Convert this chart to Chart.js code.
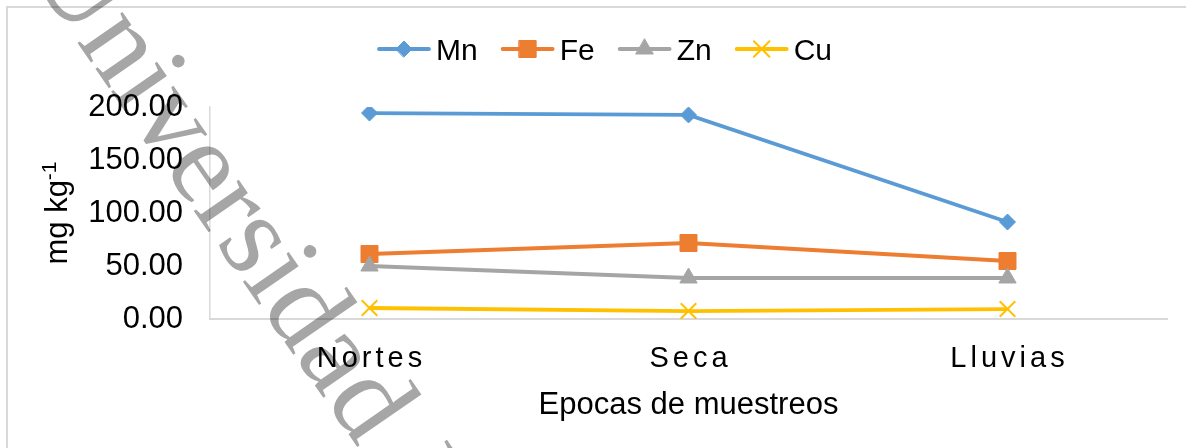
<!DOCTYPE html>
<html>
<head>
<meta charset="utf-8">
<script src="https://cdn.jsdelivr.net/npm/chart.js@4.4.1/dist/chart.umd.min.js"></script>
<style>
  html, body { margin: 0; padding: 0; background: #fff; }
  #wrap { width: 1186px; height: 448px; position: relative; }
</style>
</head>
<body>
<div id="wrap"><canvas id="grafico"></canvas></div>
<script>
// ═══════════════════════════════════════════════════════
//  DATOS
// ═══════════════════════════════════════════════════════
const EPOCAS  = ['Nortes', 'Seca', 'Lluvias'];
const MN      = [194.3, 192.5, 91.5];
const FE      = [61.3, 71.7, 54.7];
const ZN      = [50.0, 38.7, 38.7];
const CU      = [10.4, 7.5, 9.4];
const SERIES  = ['Mn', 'Fe', 'Zn', 'Cu'];
const Y_TICKS = [0, 50, 100, 150, 200];
const TITULO_X = 'Epocas de muestreos';
const TITULO_Y = 'mg kg';
const TITULO_Y_SUP = '-1';
const MARCA_AGUA = 'Universidad Juárez Autónoma de Tabasco';

// estilos (Excel)
const COLORES = ['#5B9BD5', '#ED7D31', '#A5A5A5', '#FFC000'];
const PUNTOS  = [
  { pointStyle: 'rectRot',  radius: 8,  borderWidth: 1 },
  { pointStyle: 'rect',     radius: 12, borderWidth: 1 },
  { pointStyle: 'triangle', radius: 10, borderWidth: 1 },
  { pointStyle: 'crossRot', radius: 11, borderWidth: 2 },
];
const GRIS_EJE = '#d9d9d9';
const FUENTE = '"Liberation Sans", Arial, sans-serif';

Chart.defaults.font.family = FUENTE;
Chart.defaults.color = '#000';

const valores = [MN, FE, ZN, CU];
const datasets = SERIES.map((s, i) => ({
  label: s,
  data: valores[i],
  borderColor: COLORES[i],
  backgroundColor: COLORES[i],
  borderWidth: 3.8,
  tension: 0,
  pointStyle: PUNTOS[i].pointStyle,
  pointRadius: PUNTOS[i].radius,
  pointHoverRadius: PUNTOS[i].radius,
  pointBorderWidth: PUNTOS[i].borderWidth,
  pointBackgroundColor: COLORES[i],
  pointBorderColor: COLORES[i],
  order: SERIES.length - i,   // Cu encima, como en Excel
}));

// ═══════════════════════════════════════════════════════
//  DECORACION: marco, etiquetas, leyenda, marca de agua
// ═══════════════════════════════════════════════════════
const decoracion = {
  id: 'decoracion',
  beforeDraw(chart) {
    const ctx = chart.ctx;
    ctx.save();
    ctx.strokeStyle = GRIS_EJE;
    ctx.lineWidth = 2;
    ctx.beginPath();
    ctx.moveTo(7, chart.height);
    ctx.lineTo(7, 7);
    ctx.lineTo(chart.width, 7);
    ctx.stroke();
    ctx.restore();
  },
  afterDraw(chart) {
    const ctx = chart.ctx;
    const xs = chart.scales.x;
    const area = chart.chartArea;

    // etiquetas del eje x (espaciadas)
    ctx.save();
    ctx.fillStyle = '#000';
    ctx.font = '29px ' + FUENTE;
    ctx.letterSpacing = '4px';
    ctx.textAlign = 'left';
    ctx.textBaseline = 'alphabetic';
    EPOCAS.forEach((t, i) => {
      const w = ctx.measureText(t).width - 4;
      ctx.fillText(t, xs.getPixelForTick(i) - w / 2, 367);
    });
    ctx.letterSpacing = '0px';

    // titulo eje x
    ctx.font = '31px ' + FUENTE;
    ctx.textAlign = 'center';
    ctx.textBaseline = 'middle';
    ctx.fillText(TITULO_X, (area.left + area.right) / 2, 405);

    // titulo eje y con superindice
    ctx.translate(67, (area.top + area.bottom) / 2);
    ctx.rotate(-Math.PI / 2);
    ctx.textAlign = 'left';
    ctx.textBaseline = 'alphabetic';
    ctx.font = '31px ' + FUENTE;
    const wMain = ctx.measureText(TITULO_Y).width;
    ctx.font = '21px ' + FUENTE;
    const wSup = ctx.measureText(TITULO_Y_SUP).width;
    const x0 = -(wMain + wSup) / 2;
    ctx.font = '31px ' + FUENTE;
    ctx.fillText(TITULO_Y, x0, 0);
    ctx.font = '21px ' + FUENTE;
    ctx.fillText(TITULO_Y_SUP, x0 + wMain, -11);
    ctx.restore();

    // leyenda
    ctx.save();
    ctx.font = '30px ' + FUENTE;
    const muestra = 54, gapTxt = 5, gapItem = 23;
    const anchos = SERIES.map(s => ctx.measureText(s).width);
    const total = anchos.reduce((a, w) => a + muestra + gapTxt + w, 0) + gapItem * (SERIES.length - 1);
    let x = 604.5 - total / 2;
    const yL = 49;
    SERIES.forEach((s, i) => {
      ctx.strokeStyle = COLORES[i];
      ctx.fillStyle = COLORES[i];
      ctx.lineWidth = 3.8;
      ctx.lineCap = 'round';
      ctx.beginPath();
      ctx.moveTo(x + 2, yL);
      ctx.lineTo(x + muestra - 2, yL);
      ctx.stroke();
      ctx.lineWidth = PUNTOS[i].borderWidth;
      Chart.helpers.drawPoint(ctx, {
        pointStyle: PUNTOS[i].pointStyle,
        radius: PUNTOS[i].radius,
        borderWidth: PUNTOS[i].borderWidth,
        rotation: 0,
      }, x + muestra / 2, yL);
      ctx.fillStyle = '#000';
      ctx.textAlign = 'left';
      ctx.textBaseline = 'alphabetic';
      ctx.fillText(s, x + muestra + gapTxt, 60);
      x += muestra + gapTxt + anchos[i] + gapItem;
    });
    ctx.restore();

    // marca de agua
    ctx.save();
    ctx.globalCompositeOperation = 'multiply';
    ctx.translate(27, -30);
    ctx.rotate(55.3 * Math.PI / 180);
    ctx.font = '119px "Liberation Serif", "Times New Roman", serif';
    ctx.fillStyle = '#a6a6a6';
    ctx.textAlign = 'left';
    ctx.textBaseline = 'alphabetic';
    ctx.fillText(MARCA_AGUA, 0, 0);
    ctx.restore();
  }
};

// ═══════════════════════════════════════════════════════
//  GRAFICO
// ═══════════════════════════════════════════════════════
new Chart(document.getElementById('grafico'), {
  type: 'line',
  data: { labels: EPOCAS, datasets },
  options: {
    responsive: true,
    maintainAspectRatio: false,
    animation: false,
    layout: { padding: { top: 107, right: 19, bottom: 0, left: 0 } },
    plugins: { legend: { display: false }, tooltip: { enabled: false } },
    scales: {
      x: {
        type: 'category',
        offset: true,
        grid: { display: false, drawTicks: false },
        border: { display: true, color: GRIS_EJE, width: 2 },
        ticks: { display: false },
        afterFit: s => { s.height = 129; },
      },
      y: {
        min: 0,
        max: 200,
        grid: { display: false, drawTicks: false },
        border: { display: true, color: GRIS_EJE, width: 1.5 },
        ticks: {
          padding: 27,
          font: { size: 31 },
          color: '#000',
          callback: v => v.toFixed(2),
        },
        afterBuildTicks: s => { s.ticks = Y_TICKS.map(v => ({ value: v })); },
        afterFit: s => { s.width = 210; },
      }
    }
  },
  plugins: [decoracion]
});
</script>
</body>
</html>
